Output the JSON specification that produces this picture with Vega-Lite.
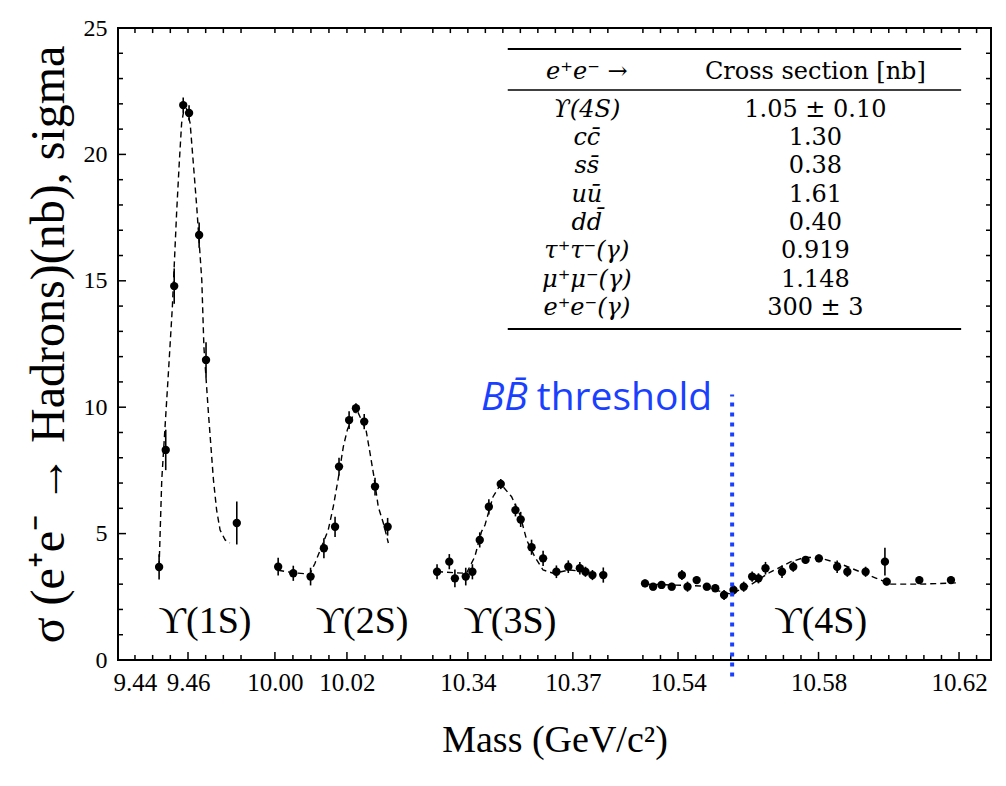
{
  "$schema": "https://vega.github.io/schema/vega-lite/v6.json",
  "width": 873,
  "height": 632,
  "autosize": {"type": "none"},
  "padding": {"left": 118, "top": 28, "right": 15, "bottom": 126},
  "background": "white",
  "config": {
    "view": {"stroke": "black", "strokeWidth": 2},
    "axis": {"grid": false, "domain": false, "ticks": false, "labelColor": "black", "titleColor": "black"}
  },
  "datasets": {
    "curve": [
      {"seg": 1, "mass": 9.4491, "sigma": 3.68}, {"seg": 1, "mass": 9.4501, "sigma": 7.12}, {"seg": 1, "mass": 9.4526, "sigma": 11.35},
      {"seg": 1, "mass": 9.4541, "sigma": 13.96}, {"seg": 1, "mass": 9.4557, "sigma": 17.68}, {"seg": 1, "mass": 9.4567, "sigma": 19.66},
      {"seg": 1, "mass": 9.4576, "sigma": 21.24}, {"seg": 1, "mass": 9.4589, "sigma": 22.03}, {"seg": 1, "mass": 9.4608, "sigma": 21.24},
      {"seg": 1, "mass": 9.462, "sigma": 19.66}, {"seg": 1, "mass": 9.4633, "sigma": 17.92}, {"seg": 1, "mass": 9.4652, "sigma": 15.03},
      {"seg": 1, "mass": 9.466, "sigma": 12.38}, {"seg": 1, "mass": 9.4677, "sigma": 9.77}, {"seg": 1, "mass": 9.4696, "sigma": 7.12},
      {"seg": 1, "mass": 9.4708, "sigma": 5.93}, {"seg": 1, "mass": 9.4721, "sigma": 5.14}, {"seg": 1, "mass": 9.474, "sigma": 4.75},
      {"seg": 1, "mass": 9.4758, "sigma": 4.63},
      {"seg": 2, "mass": 10.0009, "sigma": 3.55}, {"seg": 2, "mass": 10.0051, "sigma": 3.45}, {"seg": 2, "mass": 10.0097, "sigma": 3.4},
      {"seg": 2, "mass": 10.0111, "sigma": 3.82}, {"seg": 2, "mass": 10.0148, "sigma": 5.14}, {"seg": 2, "mass": 10.0162, "sigma": 6.06},
      {"seg": 2, "mass": 10.0176, "sigma": 7.19}, {"seg": 2, "mass": 10.019, "sigma": 8.44}, {"seg": 2, "mass": 10.0201, "sigma": 9.1},
      {"seg": 2, "mass": 10.0225, "sigma": 9.97}, {"seg": 2, "mass": 10.0253, "sigma": 9.1}, {"seg": 2, "mass": 10.0264, "sigma": 8.19},
      {"seg": 2, "mass": 10.0275, "sigma": 7.25}, {"seg": 2, "mass": 10.0287, "sigma": 6.06}, {"seg": 2, "mass": 10.0301, "sigma": 5.42},
      {"seg": 2, "mass": 10.0315, "sigma": 4.63},
      {"seg": 3, "mass": 10.3312, "sigma": 3.5}, {"seg": 3, "mass": 10.3363, "sigma": 3.45}, {"seg": 3, "mass": 10.3396, "sigma": 3.43},
      {"seg": 3, "mass": 10.342, "sigma": 4.09}, {"seg": 3, "mass": 10.3439, "sigma": 5.08}, {"seg": 3, "mass": 10.3449, "sigma": 5.34},
      {"seg": 3, "mass": 10.3472, "sigma": 6.46}, {"seg": 3, "mass": 10.3494, "sigma": 6.96}, {"seg": 3, "mass": 10.3525, "sigma": 6.46},
      {"seg": 3, "mass": 10.3549, "sigma": 5.74}, {"seg": 3, "mass": 10.3568, "sigma": 4.75}, {"seg": 3, "mass": 10.3591, "sigma": 4.09},
      {"seg": 3, "mass": 10.3615, "sigma": 3.56}, {"seg": 3, "mass": 10.3644, "sigma": 3.43}, {"seg": 3, "mass": 10.3691, "sigma": 3.56},
      {"seg": 3, "mass": 10.3739, "sigma": 3.49}, {"seg": 3, "mass": 10.3787, "sigma": 3.36},
      {"seg": 4, "mass": 10.5306, "sigma": 3.0}, {"seg": 4, "mass": 10.5463, "sigma": 2.93}, {"seg": 4, "mass": 10.5549, "sigma": 2.61},
      {"seg": 4, "mass": 10.5606, "sigma": 2.97}, {"seg": 4, "mass": 10.5663, "sigma": 3.48}, {"seg": 4, "mass": 10.572, "sigma": 3.88},
      {"seg": 4, "mass": 10.5763, "sigma": 4.07}, {"seg": 4, "mass": 10.5806, "sigma": 4.03}, {"seg": 4, "mass": 10.5863, "sigma": 3.8},
      {"seg": 4, "mass": 10.592, "sigma": 3.48}, {"seg": 4, "mass": 10.5963, "sigma": 3.24}, {"seg": 4, "mass": 10.6006, "sigma": 3.0},
      {"seg": 4, "mass": 10.6091, "sigma": 3.0}, {"seg": 4, "mass": 10.6191, "sigma": 3.05}
    ],
    "pts": [
      {"mass": 9.4491, "sigma": 3.68, "err": 0.5}, {"mass": 9.4516, "sigma": 8.31, "err": 0.8}, {"mass": 9.4548, "sigma": 14.79, "err": 0.7},
      {"mass": 9.4582, "sigma": 21.95, "err": 0.3}, {"mass": 9.4604, "sigma": 21.64, "err": 0.3}, {"mass": 9.4642, "sigma": 16.81, "err": 0.5},
      {"mass": 9.4668, "sigma": 11.87, "err": 0.7}, {"mass": 9.4784, "sigma": 5.42, "err": 0.85},
      {"mass": 10.0009, "sigma": 3.69, "err": 0.35}, {"mass": 10.0051, "sigma": 3.43, "err": 0.3}, {"mass": 10.0099, "sigma": 3.3, "err": 0.35},
      {"mass": 10.0136, "sigma": 4.42, "err": 0.4}, {"mass": 10.0167, "sigma": 5.27, "err": 0.4}, {"mass": 10.0178, "sigma": 7.65, "err": 0.35},
      {"mass": 10.0206, "sigma": 9.49, "err": 0.35}, {"mass": 10.0225, "sigma": 9.96, "err": 0.2}, {"mass": 10.0248, "sigma": 9.43, "err": 0.3},
      {"mass": 10.0278, "sigma": 6.86, "err": 0.35}, {"mass": 10.0313, "sigma": 5.27, "err": 0.35},
      {"mass": 10.3312, "sigma": 3.49, "err": 0.3}, {"mass": 10.3347, "sigma": 3.89, "err": 0.3}, {"mass": 10.3363, "sigma": 3.23, "err": 0.35},
      {"mass": 10.3394, "sigma": 3.3, "err": 0.35}, {"mass": 10.3413, "sigma": 3.49, "err": 0.3}, {"mass": 10.3434, "sigma": 4.75, "err": 0.3},
      {"mass": 10.346, "sigma": 6.06, "err": 0.3}, {"mass": 10.3494, "sigma": 6.96, "err": 0.2}, {"mass": 10.3536, "sigma": 5.93, "err": 0.25},
      {"mass": 10.3551, "sigma": 5.56, "err": 0.3}, {"mass": 10.3582, "sigma": 4.46, "err": 0.3}, {"mass": 10.3615, "sigma": 4.02, "err": 0.3},
      {"mass": 10.3653, "sigma": 3.49, "err": 0.25}, {"mass": 10.3687, "sigma": 3.69, "err": 0.25}, {"mass": 10.372, "sigma": 3.63, "err": 0.25},
      {"mass": 10.3736, "sigma": 3.49, "err": 0.2}, {"mass": 10.3756, "sigma": 3.36, "err": 0.2}, {"mass": 10.3787, "sigma": 3.36, "err": 0.3},
      {"mass": 10.5306, "sigma": 3.03, "err": 0.15}, {"mass": 10.5329, "sigma": 2.9, "err": 0.15}, {"mass": 10.5353, "sigma": 2.97, "err": 0.15},
      {"mass": 10.5382, "sigma": 2.9, "err": 0.15}, {"mass": 10.5411, "sigma": 3.36, "err": 0.2}, {"mass": 10.5427, "sigma": 2.9, "err": 0.2},
      {"mass": 10.5453, "sigma": 3.16, "err": 0.15}, {"mass": 10.5482, "sigma": 2.9, "err": 0.15}, {"mass": 10.5506, "sigma": 2.84, "err": 0.15},
      {"mass": 10.5531, "sigma": 2.57, "err": 0.2}, {"mass": 10.5558, "sigma": 2.77, "err": 0.2}, {"mass": 10.5587, "sigma": 2.9, "err": 0.2},
      {"mass": 10.5611, "sigma": 3.3, "err": 0.2}, {"mass": 10.5629, "sigma": 3.23, "err": 0.2}, {"mass": 10.5649, "sigma": 3.63, "err": 0.25},
      {"mass": 10.5696, "sigma": 3.49, "err": 0.25}, {"mass": 10.5728, "sigma": 3.69, "err": 0.2}, {"mass": 10.5763, "sigma": 3.96, "err": 0.15},
      {"mass": 10.5801, "sigma": 4.02, "err": 0.15}, {"mass": 10.5853, "sigma": 3.69, "err": 0.25}, {"mass": 10.5882, "sigma": 3.49, "err": 0.2},
      {"mass": 10.5934, "sigma": 3.49, "err": 0.2}, {"mass": 10.5989, "sigma": 3.89, "err": 0.55}, {"mass": 10.5994, "sigma": 3.1, "err": 0.15},
      {"mass": 10.6087, "sigma": 3.16, "err": 0.15}, {"mass": 10.6177, "sigma": 3.16, "err": 0.15}
    ],
    "res": [
      {"label": "ϒ(1S)", "mass": 9.4664},
      {"label": "ϒ(2S)", "mass": 10.0242},
      {"label": "ϒ(3S)", "mass": 10.352},
      {"label": "ϒ(4S)", "mass": 10.5806}
    ],
    "table": [
      {"row": 1, "process": "ϒ(4S)", "xsec": "1.05 ± 0.10"},
      {"row": 2, "process": "cc̄", "xsec": "1.30"},
      {"row": 3, "process": "ss̄", "xsec": "0.38"},
      {"row": 4, "process": "uū", "xsec": "1.61"},
      {"row": 5, "process": "dd̄", "xsec": "0.40"},
      {"row": 6, "process": "τ⁺τ⁻(γ)", "xsec": "0.919"},
      {"row": 7, "process": "μ⁺μ⁻(γ)", "xsec": "1.148"},
      {"row": 8, "process": "e⁺e⁻(γ)", "xsec": "300 ± 3"}
    ],
    "xticks": [
      {"tick": 9.44, "major": false}, {"tick": 9.44667, "major": false}, {"tick": 9.45333, "major": false}, {"tick": 9.46, "major": true},
      {"tick": 9.46667, "major": false}, {"tick": 9.47333, "major": false}, {"tick": 9.48, "major": false},
      {"tick": 10.0, "major": true}, {"tick": 10.005, "major": false}, {"tick": 10.01, "major": false}, {"tick": 10.015, "major": false},
      {"tick": 10.02, "major": true}, {"tick": 10.025, "major": false}, {"tick": 10.03, "major": false}, {"tick": 10.035, "major": false},
      {"tick": 10.33, "major": false}, {"tick": 10.335, "major": false}, {"tick": 10.34, "major": true}, {"tick": 10.345, "major": false},
      {"tick": 10.35, "major": false}, {"tick": 10.355, "major": false}, {"tick": 10.36, "major": false}, {"tick": 10.365, "major": false},
      {"tick": 10.37, "major": true}, {"tick": 10.375, "major": false}, {"tick": 10.38, "major": false},
      {"tick": 10.53, "major": false}, {"tick": 10.535, "major": false}, {"tick": 10.54, "major": true}, {"tick": 10.545, "major": false},
      {"tick": 10.55, "major": false}, {"tick": 10.555, "major": false}, {"tick": 10.56, "major": false}, {"tick": 10.565, "major": false},
      {"tick": 10.57, "major": false}, {"tick": 10.575, "major": false}, {"tick": 10.58, "major": true}, {"tick": 10.585, "major": false},
      {"tick": 10.59, "major": false}, {"tick": 10.595, "major": false}, {"tick": 10.6, "major": false}, {"tick": 10.605, "major": false},
      {"tick": 10.61, "major": false}, {"tick": 10.615, "major": false}, {"tick": 10.62, "major": true}, {"tick": 10.625, "major": false}
    ],
    "yticks": [
      {"tick": 1, "major": false}, {"tick": 2, "major": false}, {"tick": 3, "major": false}, {"tick": 4, "major": false}, {"tick": 5, "major": true},
      {"tick": 6, "major": false}, {"tick": 7, "major": false}, {"tick": 8, "major": false}, {"tick": 9, "major": false}, {"tick": 10, "major": true},
      {"tick": 11, "major": false}, {"tick": 12, "major": false}, {"tick": 13, "major": false}, {"tick": 14, "major": false}, {"tick": 15, "major": true},
      {"tick": 16, "major": false}, {"tick": 17, "major": false}, {"tick": 18, "major": false}, {"tick": 19, "major": false}, {"tick": 20, "major": true},
      {"tick": 21, "major": false}, {"tick": 22, "major": false}, {"tick": 23, "major": false}, {"tick": 24, "major": false}
    ]
  },
  "layer": [
    {
      "data": {"name": "curve"},
      "mark": {"type": "line", "color": "black", "strokeDash": [6, 4], "strokeWidth": 1.4},
      "encoding": {
        "x": {
          "field": "mass", "type": "quantitative",
          "scale": {"domain": [9.4336, 9.4864, 9.9953, 10.0389, 10.3249, 10.3849, 10.5249, 10.6291], "range": [0, 140, 140, 297, 297, 507, 507, 873], "nice": false, "zero": false},
          "axis": {
            "orient": "bottom",
            "values": [9.44, 9.46, 10, 10.02, 10.34, 10.37, 10.54, 10.58, 10.62],
            "format": ".2f",
            "labelFont": "Liberation Serif", "labelFontSize": 25, "labelPadding": 10,
            "labelOverlap": false, "labelFlush": false, "labelBound": false,
            "title": "Mass (GeV/c²)", "titleFont": "Liberation Serif", "titleFontSize": 38, "titleFontWeight": "normal", "titlePadding": 26
          }
        },
        "y": {
          "field": "sigma", "type": "quantitative",
          "scale": {"domain": [0, 25], "nice": false},
          "axis": {
            "orient": "left",
            "values": [0, 5, 10, 15, 20, 25],
            "labelFont": "Liberation Serif", "labelFontSize": 24, "labelPadding": 11, "labelOverlap": false, "labelBound": false,
            "title": "σ (e⁺e⁻ → Hadrons)(nb)", "titleFont": "Liberation Serif", "titleFontSize": 48, "titleFontWeight": "normal", "titlePadding": 10
          }
        },
        "detail": {"field": "seg"}
      }
    },
    {
      "data": {"name": "pts"},
      "mark": {"type": "point", "filled": true, "shape": "circle", "size": 70, "color": "black", "opacity": 1},
      "encoding": {
        "x": {"field": "mass", "type": "quantitative"},
        "y": {"field": "sigma", "type": "quantitative"}
      }
    },
    {
      "data": {"name": "pts"},
      "mark": {"type": "errorbar", "color": "black", "thickness": 1.6},
      "encoding": {
        "x": {"field": "mass", "type": "quantitative"},
        "y": {"field": "sigma", "type": "quantitative"},
        "yError": {"field": "err"}
      }
    },
    {
      "data": {"name": "xticks"},
      "transform": [{"filter": "datum.major"}],
      "mark": {"type": "rule", "color": "black", "strokeWidth": 1.5},
      "encoding": {
        "x": {"field": "tick", "type": "quantitative"},
        "y": {"datum": 0, "type": "quantitative"},
        "y2": {"datum": 0.32}
      }
    },
    {
      "data": {"name": "xticks"},
      "transform": [{"filter": "!datum.major"}],
      "mark": {"type": "rule", "color": "black", "strokeWidth": 1.5},
      "encoding": {
        "x": {"field": "tick", "type": "quantitative"},
        "y": {"datum": 0, "type": "quantitative"},
        "y2": {"datum": 0.2}
      }
    },
    {
      "data": {"name": "xticks"},
      "mark": {"type": "rule", "color": "black", "strokeWidth": 1.5},
      "encoding": {
        "x": {"field": "tick", "type": "quantitative"},
        "y": {"datum": 25, "type": "quantitative"},
        "y2": {"datum": 24.8}
      }
    },
    {
      "data": {"name": "yticks"},
      "transform": [{"filter": "datum.major"}],
      "mark": {"type": "rule", "color": "black", "strokeWidth": 1.5},
      "encoding": {
        "y": {"field": "tick", "type": "quantitative"},
        "x": {"datum": 9.4336, "type": "quantitative"},
        "x2": {"datum": 9.43662}
      }
    },
    {
      "data": {"name": "yticks"},
      "transform": [{"filter": "!datum.major"}],
      "mark": {"type": "rule", "color": "black", "strokeWidth": 1.5},
      "encoding": {
        "y": {"field": "tick", "type": "quantitative"},
        "x": {"datum": 9.4336, "type": "quantitative"},
        "x2": {"datum": 9.43549}
      }
    },
    {
      "data": {"name": "yticks"},
      "mark": {"type": "rule", "color": "black", "strokeWidth": 1.5},
      "encoding": {
        "y": {"field": "tick", "type": "quantitative"},
        "x": {"datum": 10.6291, "type": "quantitative"},
        "x2": {"datum": 10.62767}
      }
    },
    {
      "data": {"name": "res"},
      "mark": {"type": "text", "font": "Liberation Serif, DejaVu Serif", "fontSize": 38, "align": "center", "baseline": "middle", "color": "black"},
      "encoding": {
        "x": {"field": "mass", "type": "quantitative"},
        "y": {"datum": 1.5, "type": "quantitative"},
        "text": {"field": "label"}
      }
    },
    {
      "data": {"values": [{}]},
      "mark": {"type": "rule", "color": "#1a40ff", "strokeWidth": 4, "strokeDash": [4, 6]},
      "encoding": {
        "x": {"datum": 10.5554, "type": "quantitative"},
        "y": {"datum": -0.65, "type": "quantitative"},
        "y2": {"datum": 10.5}
      }
    },
    {
      "data": {"values": [{}]},
      "mark": {"type": "text", "text": "BB̄", "font": "Open Sans", "fontSize": 39, "fontStyle": "italic", "color": "#1a40ff", "align": "right", "baseline": "middle"},
      "encoding": {
        "x": {"datum": 10.3571, "type": "quantitative"},
        "y": {"datum": 10.36, "type": "quantitative"}
      }
    },
    {
      "data": {"values": [{}]},
      "mark": {"type": "text", "text": "threshold", "font": "Open Sans", "fontSize": 39, "color": "#1a40ff", "align": "left", "baseline": "middle"},
      "encoding": {
        "x": {"datum": 10.3597, "type": "quantitative"},
        "y": {"datum": 10.36, "type": "quantitative"}
      }
    },
    {
      "data": {"values": [{}]},
      "mark": {"type": "rule", "color": "black", "strokeWidth": 2},
      "encoding": {
        "x": {"datum": 10.3514, "type": "quantitative"},
        "x2": {"datum": 10.6206},
        "y": {"datum": 24.17, "type": "quantitative"}
      }
    },
    {
      "data": {"values": [{}]},
      "mark": {"type": "rule", "color": "black", "strokeWidth": 1.4},
      "encoding": {
        "x": {"datum": 10.3514, "type": "quantitative"},
        "x2": {"datum": 10.6206},
        "y": {"datum": 22.55, "type": "quantitative"}
      }
    },
    {
      "data": {"values": [{}]},
      "mark": {"type": "rule", "color": "black", "strokeWidth": 2},
      "encoding": {
        "x": {"datum": 10.3514, "type": "quantitative"},
        "x2": {"datum": 10.6206},
        "y": {"datum": 13.09, "type": "quantitative"}
      }
    },
    {
      "data": {"values": [{}]},
      "mark": {"type": "text", "text": "e⁺e⁻ →", "font": "DejaVu Serif", "fontSize": 24, "fontStyle": "italic", "color": "black", "align": "center", "baseline": "middle"},
      "encoding": {
        "x": {"datum": 10.374, "type": "quantitative"},
        "y": {"datum": 23.26, "type": "quantitative"}
      }
    },
    {
      "data": {"values": [{}]},
      "mark": {"type": "text", "text": "Cross section [nb]", "font": "DejaVu Serif", "fontSize": 24, "color": "black", "align": "center", "baseline": "middle"},
      "encoding": {
        "x": {"datum": 10.5791, "type": "quantitative"},
        "y": {"datum": 23.26, "type": "quantitative"}
      }
    },
    {
      "data": {"name": "table"},
      "mark": {"type": "text", "font": "DejaVu Serif", "fontSize": 24, "fontStyle": "italic", "color": "black", "align": "center", "baseline": "middle"},
      "encoding": {
        "x": {"datum": 10.374, "type": "quantitative"},
        "y": {"datum": 21.76, "type": "quantitative"},
        "yOffset": {"field": "row", "type": "quantitative", "scale": {"domain": [1, 8], "range": [0, 198], "nice": false, "zero": false}},
        "text": {"field": "process"}
      }
    },
    {
      "data": {"name": "table"},
      "mark": {"type": "text", "font": "DejaVu Serif", "fontSize": 24, "color": "black", "align": "center", "baseline": "middle"},
      "encoding": {
        "x": {"datum": 10.5791, "type": "quantitative"},
        "y": {"datum": 21.76, "type": "quantitative"},
        "yOffset": {"field": "row", "type": "quantitative", "scale": {"domain": [1, 8], "range": [0, 198], "nice": false, "zero": false}},
        "text": {"field": "xsec"}
      }
    }
  ]
}
